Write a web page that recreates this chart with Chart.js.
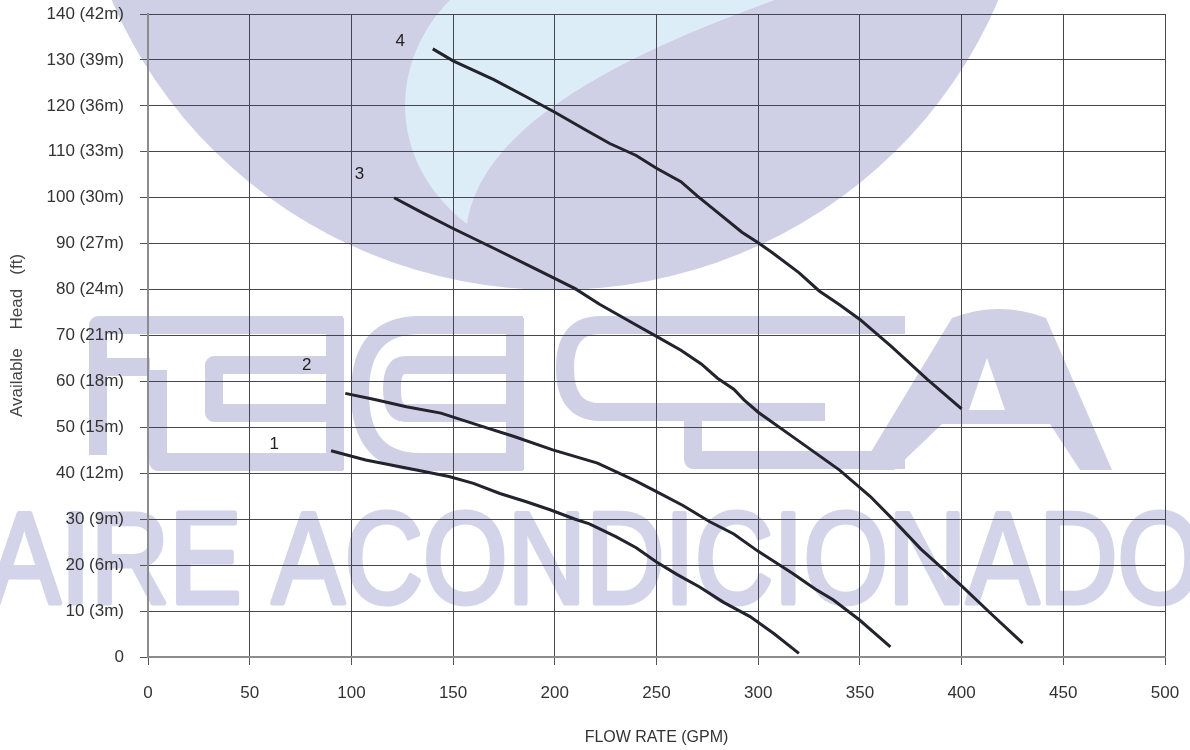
<!DOCTYPE html>
<html>
<head>
<meta charset="utf-8">
<script src="https://cdn.jsdelivr.net/npm/chart.js@4.4.1/dist/chart.umd.min.js"></script>
<style>
  html, body { margin: 0; padding: 0; background: #fff; }
  #wrap { width: 1190px; height: 750px; }
</style>
</head>
<body>
<div id="wrap"><canvas id="pumpChart" width="1190" height="750"></canvas></div>
<script>
// Axis ticks
const xTicks = [0, 50, 100, 150, 200, 250, 300, 350, 400, 450, 500];
const yTicks = [0, 10, 20, 30, 40, 50, 60, 70, 80, 90, 100, 110, 120, 130, 140];
const yTickLabels = ['0', '10 (3m)', '20 (6m)', '30 (9m)', '40 (12m)', '50 (15m)', '60 (18m)', '70 (21m)',
    '80 (24m)', '90 (27m)', '100 (30m)', '110 (33m)', '120 (36m)', '130 (39m)', '140 (42m)'];

// Pump curves (flow GPM -> head ft)
const curve1Flow = [90, 107, 132, 148, 160, 173, 186, 198, 210, 217, 230, 240, 250, 260, 271, 283, 296, 308, 320];
const curve1Head = [44.9, 42.9, 40.7, 39.3, 37.8, 35.6, 33.8, 32, 30, 29, 26.2, 23.8, 20.7, 18, 15.3, 11.9, 8.8, 5, 0.8];

const curve2Flow = [97, 112, 127, 144, 165, 180, 199, 221, 240, 250, 263, 276, 288, 300, 317, 328, 337, 350, 365];
const curve2Head = [57.4, 56, 54.5, 53.1, 50.1, 48, 45.1, 42.2, 38.3, 36, 33, 29.5, 26.8, 23, 18.2, 14.8, 12.4, 8, 2.2];

const curve3Flow = [121, 135, 150, 170, 190, 210, 222, 240, 250, 262, 272, 280, 288, 293, 300, 320, 340, 355, 365, 380, 390, 400, 415, 430];
const curve3Head = [100, 96.7, 93.3, 89, 84.6, 80.2, 76.8, 72.3, 69.8, 66.8, 63.8, 60.7, 58.3, 56, 53.3, 47, 40.7, 35, 30.5, 23.5, 19.5, 15.5, 9.2, 3];

const curve4Flow = [140, 150, 170, 185, 200, 215, 227, 240, 250, 262, 270, 280, 292, 300, 307, 320, 330, 340, 350, 365, 383, 400];
const curve4Head = [132.4, 129.8, 125.7, 122.2, 118.6, 114.8, 111.8, 109.2, 106.4, 103.5, 100.4, 96.8, 92.5, 90.2, 88, 83.7, 79.7, 76.7, 73.5, 67.8, 60.5, 54];

// Curve numbers and where they sit (data units)
const curveNames = ['1', '2', '3', '4'];
const curveNameFlow = [62, 78, 104, 124];
const curveNameHead = [46.2, 63.6, 105, 134];

const lavender = 'rgb(207,208,230)';

function toPoints(xs, ys) {
    return xs.map((x, i) => ({ x: x, y: ys[i] }));
}

function noPadding(s) {
    s.paddingTop = 0;
    s.paddingBottom = 0;
    s.paddingLeft = 0;
    s.paddingRight = 0;
}

// Background logo (watermark)
const watermark = {
    id: 'watermark',
    beforeDraw(chart) {
        const ctx = chart.ctx;
        ctx.save();
        ctx.fillStyle = '#fff';
        ctx.fillRect(0, 0, chart.width, chart.height);

        // big drop
        ctx.fillStyle = lavender;
        ctx.beginPath();
        ctx.ellipse(555, -180, 480, 470, 0, 0, Math.PI * 2);
        ctx.fill();

        // light blue leaf
        ctx.fillStyle = 'rgb(221,237,248)';
        ctx.beginPath();
        ctx.moveTo(450, 0);
        ctx.bezierCurveTo(390, 60, 385, 160, 467, 224);
        ctx.bezierCurveTo(480, 140, 580, 70, 775, 0);
        ctx.closePath();
        ctx.fill();

        // letters
        ctx.strokeStyle = lavender;
        ctx.lineWidth = 18;
        ctx.lineJoin = 'round';
        ctx.lineCap = 'butt';
        const line = (pts) => {
            ctx.beginPath();
            ctx.moveTo(pts[0][0], pts[0][1]);
            for (let i = 1; i < pts.length; i++) ctx.lineTo(pts[i][0], pts[i][1]);
            ctx.stroke();
        };
        line([[343, 325], [98, 325], [98, 455]]);
        line([[98, 367], [150, 367]]);
        line([[158, 370], [158, 462], [343, 462]]);
        line([[335, 318], [335, 470]]);
        line([[343, 365], [214, 365], [214, 413], [343, 413]]);

        ctx.beginPath();
        ctx.moveTo(523, 325); ctx.lineTo(420, 325);
        ctx.quadraticCurveTo(360, 325, 360, 393);
        ctx.quadraticCurveTo(360, 462, 420, 462);
        ctx.lineTo(523, 462);
        ctx.stroke();
        line([[515, 318], [515, 470]]);
        ctx.beginPath();
        ctx.moveTo(515, 365); ctx.lineTo(405, 365);
        ctx.quadraticCurveTo(392, 365, 392, 389);
        ctx.quadraticCurveTo(392, 413, 405, 413);
        ctx.lineTo(515, 413);
        ctx.stroke();

        ctx.beginPath();
        ctx.moveTo(905, 325); ctx.lineTo(600, 325);
        ctx.quadraticCurveTo(565, 325, 565, 368);
        ctx.quadraticCurveTo(565, 412, 600, 412);
        ctx.lineTo(825, 412);
        ctx.stroke();
        line([[693, 412], [693, 460], [905, 460]]);

        ctx.fillStyle = lavender;
        ctx.beginPath();
        ctx.moveTo(860, 470); ctx.lineTo(952, 318);
        ctx.quadraticCurveTo(999, 300, 1046, 318);
        ctx.lineTo(1112, 470); ctx.lineTo(1080, 470);
        ctx.lineTo(1050, 424); ctx.lineTo(942, 424); ctx.lineTo(894, 470);
        ctx.closePath();
        ctx.moveTo(987, 358); ctx.lineTo(1005, 410); ctx.lineTo(969, 410); ctx.closePath();
        ctx.fill('evenodd');

        // AIRE ACONDICIONADO
        ctx.fillStyle = 'rgb(211,212,233)';
        ctx.strokeStyle = 'rgb(211,212,233)';
        ctx.lineWidth = 5;
        ctx.font = '130px "Liberation Sans"';
        ctx.textBaseline = 'alphabetic';
        const txt = 'AIRE ACONDICIONADO';
        const w = ctx.measureText(txt).width;
        ctx.translate(-12, 603);
        ctx.scale(1214 / w, 1);
        ctx.fillText(txt, 0, 0);
        ctx.strokeText(txt, 0, 0);
        ctx.restore();
    }
};

// Curve numbers
const curveNumbers = {
    id: 'curveNumbers',
    afterDatasetsDraw(chart) {
        const ctx = chart.ctx;
        const xs = chart.scales.x, ys = chart.scales.y;
        ctx.save();
        ctx.fillStyle = '#222';
        ctx.font = '17px "Liberation Sans"';
        ctx.textAlign = 'center';
        ctx.textBaseline = 'middle';
        curveNames.forEach((name, i) => {
            ctx.fillText(name, xs.getPixelForValue(curveNameFlow[i]), ys.getPixelForValue(curveNameHead[i]));
        });
        ctx.restore();
    }
};

const lineStyle = { borderColor: '#23232d', borderWidth: 3, pointRadius: 0, showLine: true, tension: 0, fill: false };

new Chart(document.getElementById('pumpChart'), {
    type: 'scatter',
    data: {
        datasets: [
            Object.assign({ label: '1', data: toPoints(curve1Flow, curve1Head) }, lineStyle),
            Object.assign({ label: '2', data: toPoints(curve2Flow, curve2Head) }, lineStyle),
            Object.assign({ label: '3', data: toPoints(curve3Flow, curve3Head) }, lineStyle),
            Object.assign({ label: '4', data: toPoints(curve4Flow, curve4Head) }, lineStyle)
        ]
    },
    options: {
        responsive: false,
        animation: false,
        devicePixelRatio: 1,
        layout: { padding: { top: 14, right: 25, left: 0, bottom: 0 } },
        plugins: {
            legend: { display: false },
            tooltip: { enabled: false }
        },
        scales: {
            x: {
                type: 'linear',
                min: 0,
                max: 500,
                afterBuildTicks: s => { s.ticks = xTicks.map(v => ({ value: v })); },
                afterFit: s => { s.height = 93; noPadding(s); },
                grid: { color: '#45454f', lineWidth: 1, tickLength: 8, tickColor: '#555' },
                border: { color: '#8c8c8c', width: 2 },
                ticks: {
                    color: '#333',
                    font: { family: 'Liberation Sans', size: 17 },
                    padding: 18,
                    maxRotation: 0
                },
                title: {
                    display: true,
                    text: 'FLOW RATE (GPM)',
                    color: '#333',
                    font: { family: 'Liberation Sans', size: 16 },
                    padding: { top: 0, bottom: 3 }
                }
            },
            y: {
                type: 'linear',
                min: 0,
                max: 140,
                afterBuildTicks: s => { s.ticks = yTicks.map(v => ({ value: v })); },
                afterFit: s => { s.width = 148; noPadding(s); },
                grid: { color: '#45454f', lineWidth: 1, tickLength: 8, tickColor: '#555' },
                border: { color: '#8c8c8c', width: 2 },
                ticks: {
                    color: '#333',
                    font: { family: 'Liberation Sans', size: 17 },
                    padding: 16,
                    callback: (v, i) => yTickLabels[i]
                },
                title: {
                    display: true,
                    text: 'Available    Head   (ft)',
                    color: '#444',
                    font: { family: 'Liberation Sans', size: 17 },
                    padding: { top: 7, bottom: 0 }
                }
            }
        }
    },
    plugins: [watermark, curveNumbers]
});
</script>
</body>
</html>
